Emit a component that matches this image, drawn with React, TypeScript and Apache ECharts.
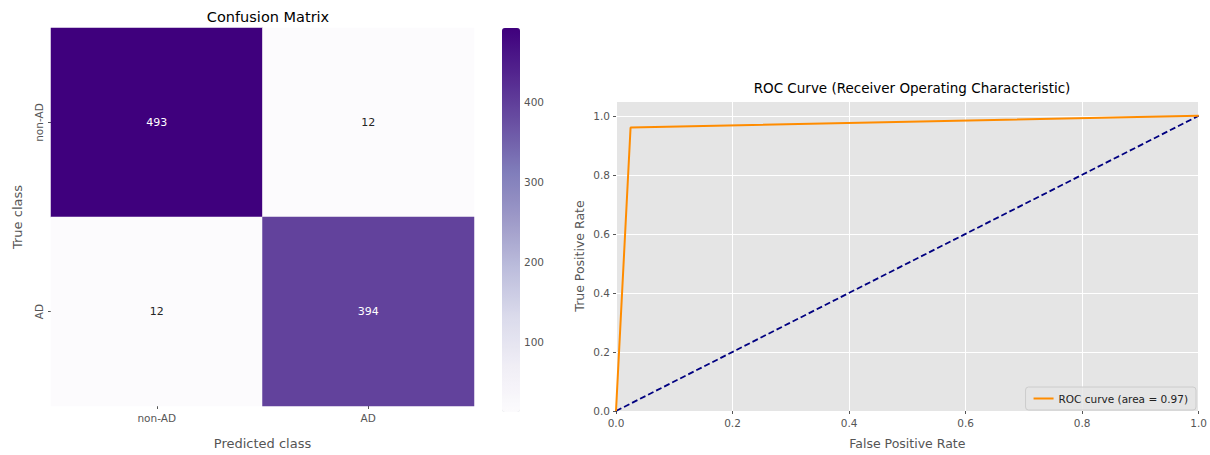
import React, { useEffect, useRef } from "react";
import * as echarts from "echarts";

const classes = ["non-AD", "AD"];
const confusion = [
  [493, 12],
  [12, 394],
];
const colorbarTicks = [100, 200, 300, 400];
const rocFpr = [0, 0.025, 1];
const rocTpr = [0, 0.96, 1];
const chanceFpr = [0, 1];
const chanceTpr = [0, 1];
const rocLabel = "ROC curve (area = 0.97)";

const purples = ["#fcfbfd", "#efedf5", "#dadaeb", "#bcbddc", "#9e9ac8", "#807dba", "#6a51a3", "#54278f", "#3f007d"];
const FONT = "DejaVu Sans";

export default function App() {
  const ref = useRef<HTMLDivElement>(null);
  useEffect(() => {
    if (!ref.current) return;
    const chart = echarts.init(ref.current, null, { renderer: "svg" });
    const flat = confusion.flat();
    const vmin = Math.min(...flat);
    const vmax = Math.max(...flat);
    const heatData: any[] = [];
    confusion.forEach((row, yi) =>
      row.forEach((v, xi) => {
        heatData.push({
          value: [xi, yi, v],
          label: { color: v > (vmin + vmax) / 2 ? "#ffffff" : "#262626" },
        });
      })
    );
    const tickLabel = { color: "#555555", fontFamily: FONT, fontSize: 10.5 };
    const option: any = {
      animation: false,
      textStyle: { fontFamily: FONT },
      title: [
        {
          text: "Confusion Matrix",
          left: 263,
          top: 4,
          textAlign: "center",
          textStyle: { fontSize: 14.5, fontWeight: "normal", color: "#000", fontFamily: FONT },
        },
        {
          text: "ROC Curve (Receiver Operating Characteristic)",
          left: 907,
          top: 76,
          textAlign: "center",
          textStyle: { fontSize: 13.5, fontWeight: "normal", color: "#000", fontFamily: FONT },
        },
      ],
      grid: [
        { left: 51, top: 28, width: 423, height: 384, show: false },
        { left: 616, top: 101, width: 583, height: 314, show: true, backgroundColor: "#e5e5e5", borderWidth: 0 },
        { left: 502, top: 28, width: 18, height: 384, show: false },
      ],
      xAxis: [
        {
          gridIndex: 0,
          type: "category",
          data: classes,
          axisLine: { show: false },
          axisTick: { show: true, alignWithLabel: true, length: 3, lineStyle: { color: "#555" } },
          axisLabel: { ...tickLabel, margin: 6 },
          splitLine: { show: false },
          name: "Predicted class",
          nameLocation: "middle",
          nameGap: 31,
          nameTextStyle: { fontSize: 13, color: "#555555", fontFamily: FONT },
        },
        {
          gridIndex: 1,
          type: "value",
          min: 0,
          max: 1,
          interval: 0.2,
          axisLine: { show: false },
          axisTick: { show: true, length: 3, lineStyle: { color: "#555" } },
          axisLabel: { ...tickLabel, margin: 6, formatter: (v: number) => v.toFixed(1) },
          splitLine: { show: true, lineStyle: { color: "#ffffff", width: 1 } },
          name: "False Positive Rate",
          nameLocation: "middle",
          nameGap: 26,
          nameTextStyle: { fontSize: 12.5, color: "#555555", fontFamily: FONT },
        },
        { gridIndex: 2, type: "value", show: false, min: 0, max: 1 },
      ],
      yAxis: [
        {
          gridIndex: 0,
          type: "category",
          data: classes,
          inverse: true,
          axisLine: { show: false },
          axisTick: { show: true, alignWithLabel: true, length: 3, lineStyle: { color: "#555" } },
          axisLabel: { ...tickLabel, rotate: 90, margin: 7 },
          splitLine: { show: false },
          name: "True class",
          nameLocation: "middle",
          nameGap: 27,
          nameTextStyle: { fontSize: 13, color: "#555555", fontFamily: FONT },
        },
        {
          gridIndex: 1,
          type: "value",
          min: 0,
          max: 1.05,
          interval: 0.2,
          axisLine: { show: false },
          axisTick: { show: true, length: 3, lineStyle: { color: "#555" } },
          axisLabel: {
            ...tickLabel,
            margin: 6,
            showMaxLabel: false,
            formatter: (v: number) => (v > 1.01 ? "" : v.toFixed(1)),
          },
          splitLine: { show: true, lineStyle: { color: "#ffffff", width: 1 } },
          name: "True Positive Rate",
          nameLocation: "middle",
          nameGap: 30,
          nameTextStyle: { fontSize: 12.5, color: "#555555", fontFamily: FONT },
        },
        {
          gridIndex: 2,
          type: "value",
          position: "right",
          min: vmin,
          max: vmax,
          axisLine: { show: false },
          axisTick: { show: true, length: 3, customValues: colorbarTicks, lineStyle: { color: "#555" } },
          axisLabel: { ...tickLabel, margin: 4, customValues: colorbarTicks },
          splitLine: { show: false },
        },
      ],
      visualMap: {
        type: "continuous",
        seriesIndex: 0,
        min: vmin,
        max: vmax,
        left: 502,
        top: 28,
        itemWidth: 18,
        itemHeight: 384,
        padding: 0,
        calculable: false,
        text: null,
        showLabel: false,
        inRange: { color: purples },
      },
      legend: {
        data: [rocLabel],
        right: 14,
        bottom: 45,
        orient: "horizontal",
        backgroundColor: "rgba(229,229,229,0.85)",
        borderColor: "#cccccc",
        borderWidth: 1,
        borderRadius: 3,
        padding: [6, 8, 6, 8],
        icon: "rect",
        itemWidth: 20,
        itemHeight: 2,
        itemGap: 6,
        textStyle: { fontSize: 10.5, color: "#222", fontFamily: FONT },
      },
      series: [
        {
          type: "heatmap",
          xAxisIndex: 0,
          yAxisIndex: 0,
          data: heatData,
          label: { show: true, fontSize: 11, fontFamily: FONT },
          itemStyle: { borderWidth: 0 },
          emphasis: { disabled: true },
        },
        {
          type: "line",
          name: rocLabel,
          xAxisIndex: 1,
          yAxisIndex: 1,
          data: rocFpr.map((x, i) => [x, rocTpr[i]]),
          showSymbol: false,
          symbol: "none",
          lineStyle: { color: "#ff8c00", width: 2 },
          itemStyle: { color: "#ff8c00" },
          z: 3,
        },
        {
          type: "line",
          name: "chance",
          xAxisIndex: 1,
          yAxisIndex: 1,
          data: chanceFpr.map((x, i) => [x, chanceTpr[i]]),
          showSymbol: false,
          symbol: "none",
          lineStyle: { color: "#000080", width: 1.8, type: [6, 3] },
          itemStyle: { color: "#000080" },
          z: 2,
        },
      ],
    };
    chart.setOption(option);
    return () => chart.dispose();
  }, []);
  return (
    <div
      ref={ref}
      style={{ position: "fixed", left: 0, top: 0, width: 1210, height: 455, background: "#fff" }}
    />
  );
}
